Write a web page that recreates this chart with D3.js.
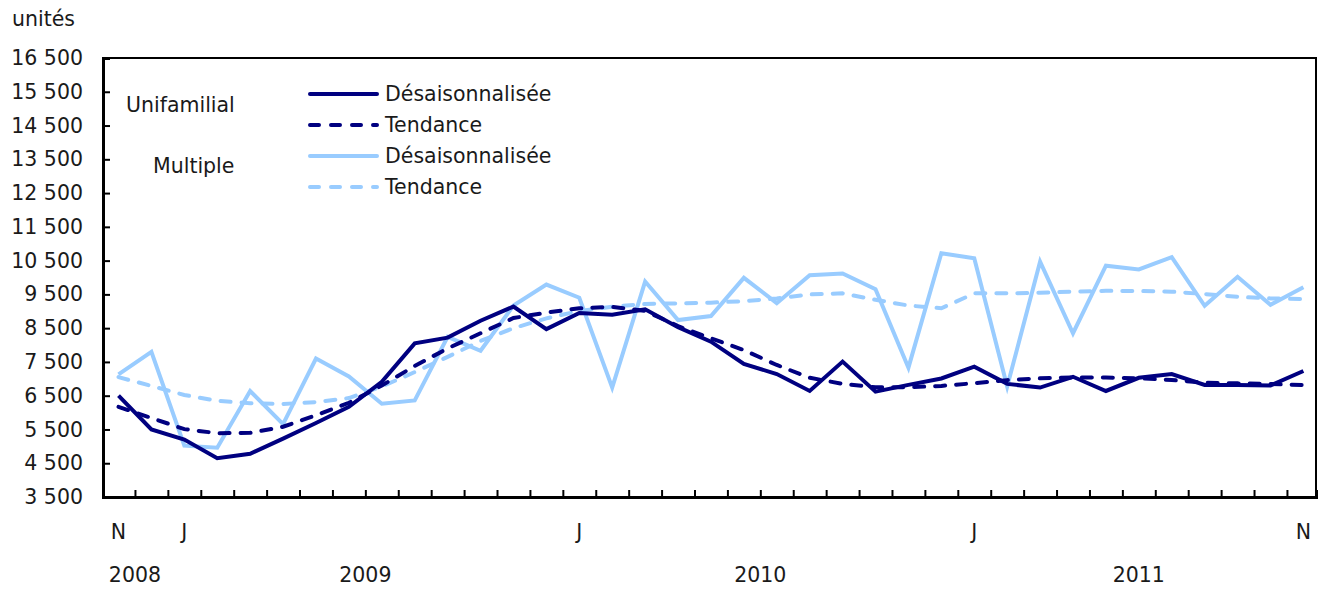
<!DOCTYPE html>
<html>
<head>
<meta charset="utf-8">
<script src="https://cdn.jsdelivr.net/npm/d3@7"></script>
<style>
  html, body { margin: 0; padding: 0; background: #fff; }
  svg { display: block; }
  text { font-family: "DejaVu Sans", Verdana, sans-serif; fill: #1a1a1a; }
</style>
</head>
<body>
<svg id="chart" width="1320" height="589"></svg>
<script>
// ---- Data (Nov 2008 .. Nov 2011, monthly) ----
const months = ["N","D","J","F","M","A","M","J","J","A","S","O","N","D",
                "J","F","M","A","M","J","J","A","S","O","N","D",
                "J","F","M","A","M","J","J","A","S","O","N"];
const monthLabels = {0:"N", 2:"J", 14:"J", 26:"J", 36:"N"};
const years = [{label:"2008", from:0, to:1},{label:"2009", from:2, to:13},
               {label:"2010", from:14, to:25},{label:"2011", from:26, to:36}];
const unifamilialDes = [6500,5500,5200,4650,4780,5230,5690,6170,6910,8050,8220,8720,9140,8470,
                        8950,8900,9060,8530,8100,7440,7140,6640,7510,6620,6820,7010,
                        7360,6850,6740,7060,6640,7030,7140,6820,6820,6800,7230];
const unifamilialTrend = [6170,5840,5510,5390,5400,5580,5920,6290,6800,7380,7900,8350,8800,8960,
                          9090,9130,9010,8560,8200,7850,7410,7030,6850,6750,6750,6790,
                          6870,6960,7015,7040,7040,7015,6965,6885,6865,6845,6815];
const multipleDes = [7130,7800,5020,4960,6640,5660,7600,7070,6260,6360,8240,7830,9170,9790,
                     9400,6740,9880,8740,8860,9990,9240,10070,10120,9650,7330,10720,
                     10570,6770,10470,8350,10350,10240,10600,9160,10020,9190,9710];
const multipleTrend = [7050,6790,6520,6350,6275,6255,6310,6430,6770,7200,7650,8120,8500,8790,
                       9010,9135,9215,9235,9255,9300,9380,9500,9530,9340,9170,9090,
                       9530,9530,9550,9580,9605,9600,9580,9510,9430,9380,9360];
const yTicks = [3500,4500,5500,6500,7500,8500,9500,10500,11500,12500,13500,14500,15500,16500];
const unitLabel = "unités";
const groupLabels = ["Unifamilial","Multiple"];
const seriesLabels = ["Désaisonnalisée","Tendance","Désaisonnalisée","Tendance"];

// ---- Layout ----
const NAVY = "#000080", LIGHT = "#99CCFF";
const PL = 103, PR = 1316, PT = 58, PB = 497;
const FS = 20.5;
const svg = d3.select("#chart");
const fmt = v => d3.format(",")(v).replace(/,/g, "\u00a0");

const idx = d3.range(months.length);
const x = d3.scalePoint().domain(idx).range([118.5, 1303.4]);
const y = d3.scaleLinear().domain([3500, 16500]).range([PB, PT]);

// frame
svg.append("rect").attr("x", PL).attr("y", PT)
  .attr("width", PR - PL).attr("height", PB - PT)
  .attr("fill", "none").attr("stroke", "#000").attr("stroke-width", 2);

// y axis
const yAxis = d3.axisLeft(y).tickValues(yTicks).tickSize(-7).tickPadding(20).tickFormat(fmt);
const gy = svg.append("g").attr("transform", `translate(${PL},0)`).call(yAxis);
gy.select(".domain").attr("stroke", "#000").attr("stroke-width", 3);
gy.selectAll(".tick line").attr("stroke", "#000").attr("stroke-width", 2);
gy.selectAll(".tick text").attr("font-size", FS).attr("fill", "#1a1a1a")
  .attr("font-family", "DejaVu Sans, sans-serif");

// x axis ticks at month boundaries
const bounds = d3.range(months.length - 1).map(i => (x(i) + x(i + 1)) / 2);
const xb = d3.scaleLinear().domain([PL, PR]).range([PL, PR]);
const xAxis = d3.axisBottom(xb).tickValues(bounds).tickSize(-7).tickFormat("");
const gx = svg.append("g").attr("transform", `translate(0,${PB})`).call(xAxis);
gx.select(".domain").attr("stroke", "#000").attr("stroke-width", 3);
gx.selectAll(".tick line").attr("stroke", "#000").attr("stroke-width", 2);

// month letters
svg.append("g").selectAll("text").data(Object.keys(monthLabels).map(Number)).join("text")
  .attr("x", d => x(d)).attr("y", 539).attr("text-anchor", "middle")
  .attr("font-size", FS).text(d => monthLabels[d]);
// years
svg.append("g").selectAll("text").data(years).join("text")
  .attr("x", d => (x(d.from) + x(d.to)) / 2).attr("y", 582).attr("text-anchor", "middle")
  .attr("font-size", FS).text(d => d.label);

// unit label
svg.append("text").attr("x", 12).attr("y", 26).attr("font-size", FS).text(unitLabel);

// lines
const line = d3.line().x((d, i) => x(i)).y(d => y(d)).curve(d3.curveLinear);
const series = [
  {data: multipleTrend, color: LIGHT, dash: "10,11"},
  {data: multipleDes, color: LIGHT, dash: null},
  {data: unifamilialTrend, color: NAVY, dash: "10,11"},
  {data: unifamilialDes, color: NAVY, dash: null}
];
svg.append("g").selectAll("path").data(series).join("path")
  .attr("d", d => line(d.data)).attr("fill", "none")
  .attr("stroke", d => d.color).attr("stroke-width", 4)
  .attr("stroke-linejoin", "miter")
  .attr("stroke-linecap", d => d.dash ? "round" : "butt")
  .attr("stroke-dasharray", d => d.dash);

// legend
const legendItems = [
  {label: seriesLabels[0], color: NAVY, dash: null, y: 94},
  {label: seriesLabels[1], color: NAVY, dash: "9,12", y: 125},
  {label: seriesLabels[2], color: LIGHT, dash: null, y: 156},
  {label: seriesLabels[3], color: LIGHT, dash: "9,12", y: 187}
];
const lg = svg.append("g");
lg.selectAll("line").data(legendItems).join("line")
  .attr("x1", 310).attr("x2", 377).attr("y1", d => d.y).attr("y2", d => d.y)
  .attr("stroke", d => d.color).attr("stroke-width", 4).attr("stroke-linecap", "round")
  .attr("stroke-dasharray", d => d.dash);
lg.selectAll("text").data(legendItems).join("text")
  .attr("x", 385).attr("y", d => d.y).attr("dy", "0.35em")
  .attr("font-size", FS).text(d => d.label);
svg.append("text").attr("x", 126).attr("y", 112).attr("font-size", FS).text(groupLabels[0]);
svg.append("text").attr("x", 153).attr("y", 173).attr("font-size", FS).text(groupLabels[1]);
</script>
</body>
</html>
